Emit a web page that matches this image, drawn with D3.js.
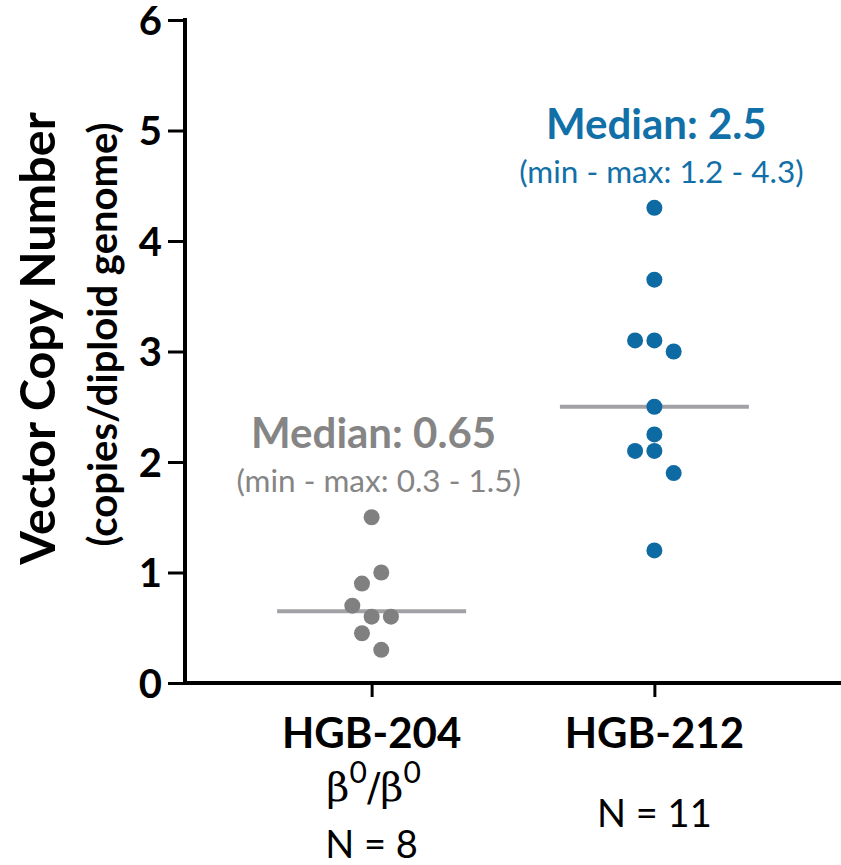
<!DOCTYPE html>
<html lang="en">
<head>
  <meta charset="UTF-8">
  <title>Vector Copy Number</title>
  <script src="https://d3js.org/d3.v7.min.js"></script>
  <style>
    body {
      margin: 0;
      background-color: #ffffff;
    }
    svg {
      display: block;
      font-family: Lato, "Open Sans", sans-serif;
    }
  </style>
</head>
<body>
  <div id="chart"></div>

  <script>
    // values
    const categories = ["HGB-204", "HGB-212"];
    const hgb204 = [1.5, 0.9, 1.0, 0.7, 0.6, 0.6, 0.45, 0.3];
    const hgb212 = [4.3, 3.65, 3.1, 3.1, 3.0, 2.5, 2.25, 2.1, 2.1, 1.9, 1.2];
    const yTicks = [0, 1, 2, 3, 4, 5, 6];
    const genotypes = ["β0/β0", ""];
    const colors = ["#808080", "#0e6aa2"];
    const textColors = ["#858585", "#1170a8"];

    const groups = [
      { name: categories[0], values: hgb204, color: colors[0], textColor: textColors[0], geno: genotypes[0] },
      { name: categories[1], values: hgb212, color: colors[1], textColor: textColors[1], geno: genotypes[1] }
    ];

    const width = 841, height = 865;
    const radius = 8, spread = 19.3;
    const fmt = v => String(+v.toFixed(2));

    const svg = d3.select("#chart")
      .append("svg")
      .attr("width", width)
      .attr("height", height);

    const x = d3.scalePoint()
      .domain(categories)
      .range([185, width])
      .padding(0.66);

    const y = d3.scaleLinear()
      .domain([0, 6])
      .range([683, 20]);

    // y axis
    const yAxis = svg.append("g")
      .attr("transform", "translate(185,0)")
      .call(d3.axisLeft(y).tickValues(yTicks).tickSize(17).tickPadding(6).tickFormat(d3.format("d")));
    yAxis.select(".domain").attr("stroke", "#000").attr("stroke-width", 4).attr("d", `M0,${y(6) - 2}V${y(0) + 2}`);
    yAxis.selectAll(".tick line").attr("stroke", "#000").attr("stroke-width", 3);
    yAxis.selectAll(".tick text")
      .attr("fill", "#000")
      .attr("font-family", "Lato, sans-serif")
      .attr("font-weight", "bold")
      .attr("font-size", 40)
      .attr("dy", "0.36em");

    // x axis
    const xAxis = svg.append("g")
      .attr("transform", `translate(0,${y(0)})`)
      .call(d3.axisBottom(x).tickSize(14).tickFormat(""));
    xAxis.select(".domain").attr("stroke", "#000").attr("stroke-width", 4).attr("d", `M183,0H${width}`);
    xAxis.selectAll(".tick line").attr("stroke", "#000").attr("stroke-width", 3);

    // y title
    svg.append("text")
      .attr("transform", `translate(55,${(y(0) + y(6)) / 2 - 13}) rotate(-90)`)
      .attr("text-anchor", "middle")
      .attr("font-weight", "bold")
      .attr("font-size", 48.5)
      .text("Vector Copy Number");
    svg.append("text")
      .attr("transform", `translate(117,${(y(0) + y(6)) / 2 - 17}) rotate(-90)`)
      .attr("text-anchor", "middle")
      .attr("font-weight", "bold")
      .attr("font-size", 40)
      .text("(copies/diploid genome)");

    // simple column scatter: nearby values share a row, centred on the category
    function swarm(values) {
      const items = values.map((v, i) => ({ v, i })).sort((a, b) => a.v - b.v || a.i - b.i);
      const rows = [];
      items.forEach(d => {
        const row = rows[rows.length - 1];
        if (row && Math.abs(y(d.v) - y(row[0].v)) < 25) row.push(d);
        else rows.push([d]);
      });
      const out = [];
      rows.forEach(row => {
        row.sort((a, b) => a.i - b.i);
        row.forEach((d, k) => out.push({ v: d.v, off: (k - (row.length - 1) / 2) * spread }));
      });
      return out;
    }

    groups.forEach(g => {
      const cx = x(g.name);
      const med = d3.median(g.values);
      const [lo, hi] = d3.extent(g.values);

      svg.append("line")
        .attr("x1", cx - 94.5)
        .attr("x2", cx + 94.5)
        .attr("y1", y(med))
        .attr("y2", y(med))
        .attr("stroke", "#a2a2a6")
        .attr("stroke-width", 4);

      svg.append("g")
        .selectAll("circle")
        .data(swarm(g.values))
        .enter()
        .append("circle")
        .attr("cx", d => cx + d.off)
        .attr("cy", d => y(d.v))
        .attr("r", radius)
        .attr("fill", g.color);

      svg.append("text")
        .attr("x", cx + 2)
        .attr("y", y(hi) - 69)
        .attr("text-anchor", "middle")
        .attr("font-weight", "bold")
        .attr("font-size", 42)
        .attr("fill", g.textColor)
        .text(`Median: ${fmt(med)}`);

      svg.append("text")
        .attr("x", cx + 7)
        .attr("y", y(hi) - 25)
        .attr("text-anchor", "middle")
        .attr("font-size", 31.5)
        .attr("fill", g.textColor)
        .text(`(min - max: ${fmt(lo)} - ${fmt(hi)})`);

      svg.append("text")
        .attr("x", cx)
        .attr("y", 748)
        .attr("text-anchor", "middle")
        .attr("font-weight", "bold")
        .attr("font-size", 42)
        .attr("fill", "#000")
        .text(g.name);

      if (g.geno) {
        const parts = g.geno.split("/");
        const t = svg.append("text")
          .attr("x", cx + 2)
          .attr("y", 801)
          .attr("text-anchor", "middle")
          .attr("font-family", "'DejaVu Serif', serif")
          .attr("font-size", 40)
          .attr("fill", "#000");
        parts.forEach((p, k) => {
          t.append("tspan").text((k ? "/" : "") + p[0]);
          t.append("tspan").attr("baseline-shift", "super").attr("font-size", 30).attr("font-family", "Lato, sans-serif").text(p.slice(1));
        });
      }

      svg.append("text")
        .attr("x", cx)
        .attr("y", g.geno ? 858 : 827)
        .attr("text-anchor", "middle")
        .attr("font-size", 38)
        .attr("fill", "#000")
        .text(`N = ${g.values.length}`);
    });
  </script>
</body>
</html>
